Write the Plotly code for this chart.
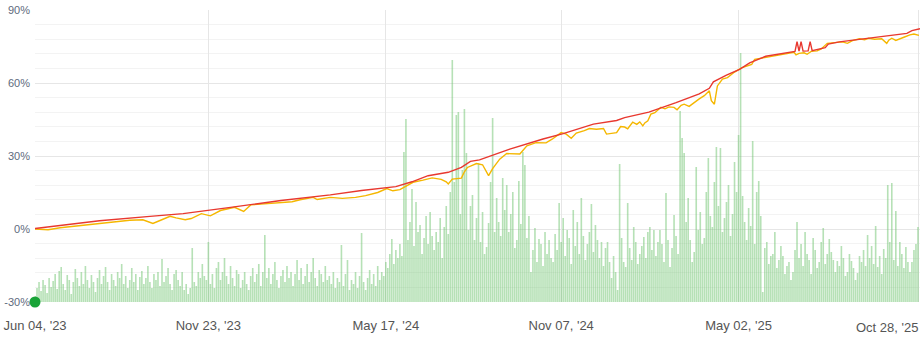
import pandas as pd
import plotly.graph_objects as go

START = pd.Timestamp("2023-06-04")

# Volume-like bars (one every 2 days from START), arbitrary units
bar_values = [
    6, 14, 20, 11, 22, 17, 9, 24, 15, 21,
    28, 13, 31, 35, 18, 12, 27, 22, 8, 20,
    33, 24, 16, 30, 18, 36, 22, 14, 27, 20,
    10, 24, 32, 18, 26, 35, 20, 12, 28, 22,
    16, 30, 24, 38, 18, 26, 14, 22, 34, 20,
    28, 12, 25, 31, 18, 24, 36, 20, 14, 28,
    22, 30, 16, 43, 20, 26, 34, 18, 12, 28,
    32, 22, 16, 30, 12, 18, 8, 14, 54, 20,
    16, 30, 24, 38, 26, 22, 60, 18, 28, 14,
    34, 40, 22, 30, 44, 26, 18, 36, 24, 16,
    32, 28, 14, 22, 30, 18, 12, 26, 34, 20,
    28, 38, 16, 30, 67, 24, 34, 18, 28, 40,
    22, 14, 26, 32, 20, 36, 24, 30, 16, 28,
    42, 22, 34, 18, 26, 38, 20, 30, 44, 24,
    16, 32, 28, 20, 36, 22, 26, 18, 30, 14,
    24, 20, 57, 16, 28, 42, 12, 22, 18, 30,
    14, 26, 69, 20, 12, 24, 32, 18, 28, 16,
    36, 22, 30, 26, 40, 34, 48, 63, 38, 52,
    44, 58, 46, 150, 183, 62, 80, 113, 56, 100,
    70, 77, 48, 64, 86, 58, 90, 66, 52, 70,
    60, 84, 44, 75, 96, 68, 110, 242, 120, 187,
    190, 88, 132, 193, 149, 72, 96, 107, 62, 84,
    139, 60, 90, 48, 55, 79, 120, 184, 70, 104,
    80, 66, 124, 92, 117, 70, 88, 110, 54, 62,
    121, 78, 150, 137, 64, 86, 30, 52, 74, 40,
    63, 58, 36, 70, 48, 62, 44, 40, 68, 52,
    99, 60, 84, 46, 72, 64, 38, 92, 56, 80,
    48, 104, 66, 42, 58, 70, 98, 50, 77, 62,
    44, 60, 36, 54, 60, 40, 24, 46, 30, 12,
    138, 64, 40, 35, 99, 54, 42, 75, 60, 38,
    48, 56, 65, 44, 70, 75, 52, 72, 46, 60,
    72, 58, 40, 109, 62, 35, 54, 87, 66, 48,
    191, 164, 149, 80, 104, 62, 40, 50, 135, 72,
    90, 58, 64, 110, 144, 86, 75, 120, 155, 96,
    154, 70, 84, 100, 117, 66, 88, 140, 110, 167,
    249, 106, 80, 62, 94, 76, 161, 58, 110, 121,
    86, 10, 54, 60, 38, 46, 48, 70, 34, 42,
    56, 46, 28, 36, 40, 22, 30, 52, 80, 44,
    58, 36, 70, 48, 42, 28, 64, 52, 34, 40,
    60, 74, 38, 48, 63, 50, 42, 30, 41, 36,
    56, 44, 26, 30, 48, 41, 34, 22, 29, 46,
    40, 52, 36, 67, 44, 56, 38, 76, 35, 46,
    28, 53, 44, 117, 60, 119, 42, 91, 36, 60,
    48, 34, 55, 40, 30, 40, 52, 58, 75,
]

# Red line: day offset from START, value in %
red_day = [0, 32, 64, 114, 147, 194, 244, 293, 324, 358, 374, 390, 410, 423, 432,
           441, 471, 504, 524, 554, 577, 585, 609, 636, 659, 669, 673, 686, 699,
           709, 718, 725, 754, 756, 758, 760, 762, 767, 769, 771, 784, 787, 798,
           825, 857, 865, 870, 878]
red_val = [0.2, 1.9, 3.4, 5.2, 6.3, 8.9, 11.7, 14.0, 15.8, 17.4, 19.4, 21.9, 23.3, 25.3, 27.8,
           28.4, 32.8, 37.0, 39.2, 43.1, 44.6, 45.8, 48.0, 51.9, 55.5, 57.8, 60.5, 63.2, 65.6,
           68.3, 70.0, 71.0, 73.0, 77.0, 73.1, 77.0, 73.1, 73.2, 77.0, 73.3, 74.5, 76.0, 76.9,
           78.3, 79.9, 80.4, 81.5, 82.3]

# Yellow line: day offset from START, value in %
yel_day = [0, 13, 25, 40, 55, 74, 94, 107, 117, 124, 134, 140, 149, 155, 165, 174, 184,
           198, 207, 214, 228, 244, 255, 263, 276, 280, 293, 305, 318, 328, 340, 349,
           355, 362, 369, 375, 385, 394, 403, 408, 410, 414, 423, 426, 429, 438, 444,
           448, 450, 454, 461, 468, 474, 481, 488, 497, 507, 513, 522, 527, 532, 537,
           545, 550, 557, 564, 567, 572, 577, 581, 585, 588, 593, 597, 600, 603, 605,
           608, 611, 615, 621, 625, 629, 634, 637, 641, 644, 649, 654, 659, 664, 669,
           671, 674, 677, 682, 687, 694, 701, 707, 711, 714, 723, 733, 753, 755, 758,
           763, 766, 770, 776, 780, 786, 793, 801, 806, 811, 818, 823, 827, 833, 840,
           843, 845, 847, 850, 854, 857, 862, 868, 872, 877]
yel_val = [0.0, -0.3, 0.5, 1.2, 2.0, 2.8, 3.6, 3.8, 2.3, 3.5, 5.2, 4.6, 3.8, 4.3, 6.3, 5.4, 7.6,
           8.9, 7.2, 9.9, 10.3, 11.0, 11.2, 12.0, 13.0, 12.1, 13.0, 12.6, 13.0, 13.7, 15.0, 16.6,
           15.7, 16.2, 17.8, 19.2, 20.1, 21.0, 20.4, 19.4, 18.5, 20.5, 20.9, 23.5, 25.3, 26.9, 26.4,
           23.2, 21.9, 24.8, 28.7, 31.0, 30.9, 30.8, 34.2, 35.5, 35.4, 36.9, 39.6, 39.0, 37.3, 39.4,
           40.4, 41.3, 41.0, 41.3, 39.0, 39.2, 39.6, 42.1, 41.9, 41.2, 43.9, 43.0, 44.0, 42.4, 43.6,
           44.5, 47.2, 47.8, 50.0, 49.4, 50.2, 50.0, 49.0, 50.8, 51.3, 50.4, 52.0, 53.5, 54.8, 56.8,
           52.7, 51.3, 58.8, 61.6, 62.2, 64.5, 66.2, 67.0, 67.6, 69.7, 70.4, 71.2, 72.6, 71.6, 72.2,
           72.4, 71.8, 73.0, 73.2, 74.0, 76.3, 76.6, 76.9, 76.3, 77.4, 78.2, 77.8, 78.4, 78.0, 78.2,
           77.0, 76.3, 77.6, 78.4, 77.5, 77.9, 78.8, 79.8, 80.1, 79.6]

x_tick_dates = ["2023-06-04", "2023-11-23", "2024-05-17", "2024-11-07", "2025-05-02", "2025-10-28"]
x_tick_labels = ["Jun 04, '23", "Nov 23, '23", "May 17, '24", "Nov 07, '24", "May 02, '25", "Oct 28, '25"]
y_tick_vals = [-30, 0, 30, 60, 90]
y_tick_labels = ["-30%", "0%", "30%", "60%", "90%"]

bar_x = [START + pd.Timedelta(days=2 * i) for i in range(len(bar_values))]
red_x = [START + pd.Timedelta(days=d) for d in red_day]
yel_x = [START + pd.Timedelta(days=d) for d in yel_day]

FONT = "Liberation Sans, Arial, sans-serif"

fig = go.Figure()
fig.add_trace(go.Bar(x=bar_x, y=bar_values, yaxis="y",
                     marker=dict(color="rgba(110,195,110,0.5)", line=dict(width=0)),
                     hoverinfo="skip", showlegend=False))
fig.add_trace(go.Scatter(x=yel_x, y=yel_val, yaxis="y2", mode="lines",
                         line=dict(color="#f5b700", width=1.4), hoverinfo="skip", showlegend=False))
fig.add_trace(go.Scatter(x=red_x, y=red_val, yaxis="y2", mode="lines",
                         line=dict(color="#e8382f", width=1.4), hoverinfo="skip", showlegend=False))
fig.add_trace(go.Scatter(x=[START], y=[-30], yaxis="y2", mode="markers",
                         marker=dict(color="#18a337", size=11), cliponaxis=False,
                         hoverinfo="skip", showlegend=False))

fig.update_layout(
    width=922, height=342,
    margin=dict(l=35, r=2, t=10, b=40),
    paper_bgcolor="white", plot_bgcolor="white",
    bargap=0.2,
    font=dict(family=FONT),
    xaxis=dict(
        type="date",
        range=["2023-06-04", "2025-10-29"],
        tickvals=x_tick_dates,
        ticktext=x_tick_labels[:-1] + [""],
        showgrid=True, gridcolor="#e6e6e6", gridwidth=1,
        zeroline=False, showline=False, ticks="",
        tickfont=dict(size=13, color="#555555"),
        ticklabelstandoff=14,
        automargin=False,
    ),
    yaxis=dict(range=[0, 292], visible=False, showgrid=False, fixedrange=True),
    yaxis2=dict(
        overlaying="y", side="left",
        range=[-30, 90],
        tickvals=y_tick_vals, ticktext=y_tick_labels,
        showgrid=True, gridcolor="#e6e6e6", gridwidth=1,
        minor=dict(dtick=6, tick0=0, showgrid=True, gridcolor="#f3f3f3", gridwidth=1),
        zeroline=False, showline=False, ticks="",
        tickfont=dict(size=11, color="#5e6a7d"),
        ticklabelstandoff=4,
        automargin=False,
    ),
    annotations=[dict(
        text=x_tick_labels[-1], xref="paper", yref="paper", x=1.0, y=0,
        xanchor="right", yanchor="top", yshift=-16, showarrow=False,
        font=dict(size=13, color="#555555", family=FONT),
    )],
)

fig.write_html("out.html")
